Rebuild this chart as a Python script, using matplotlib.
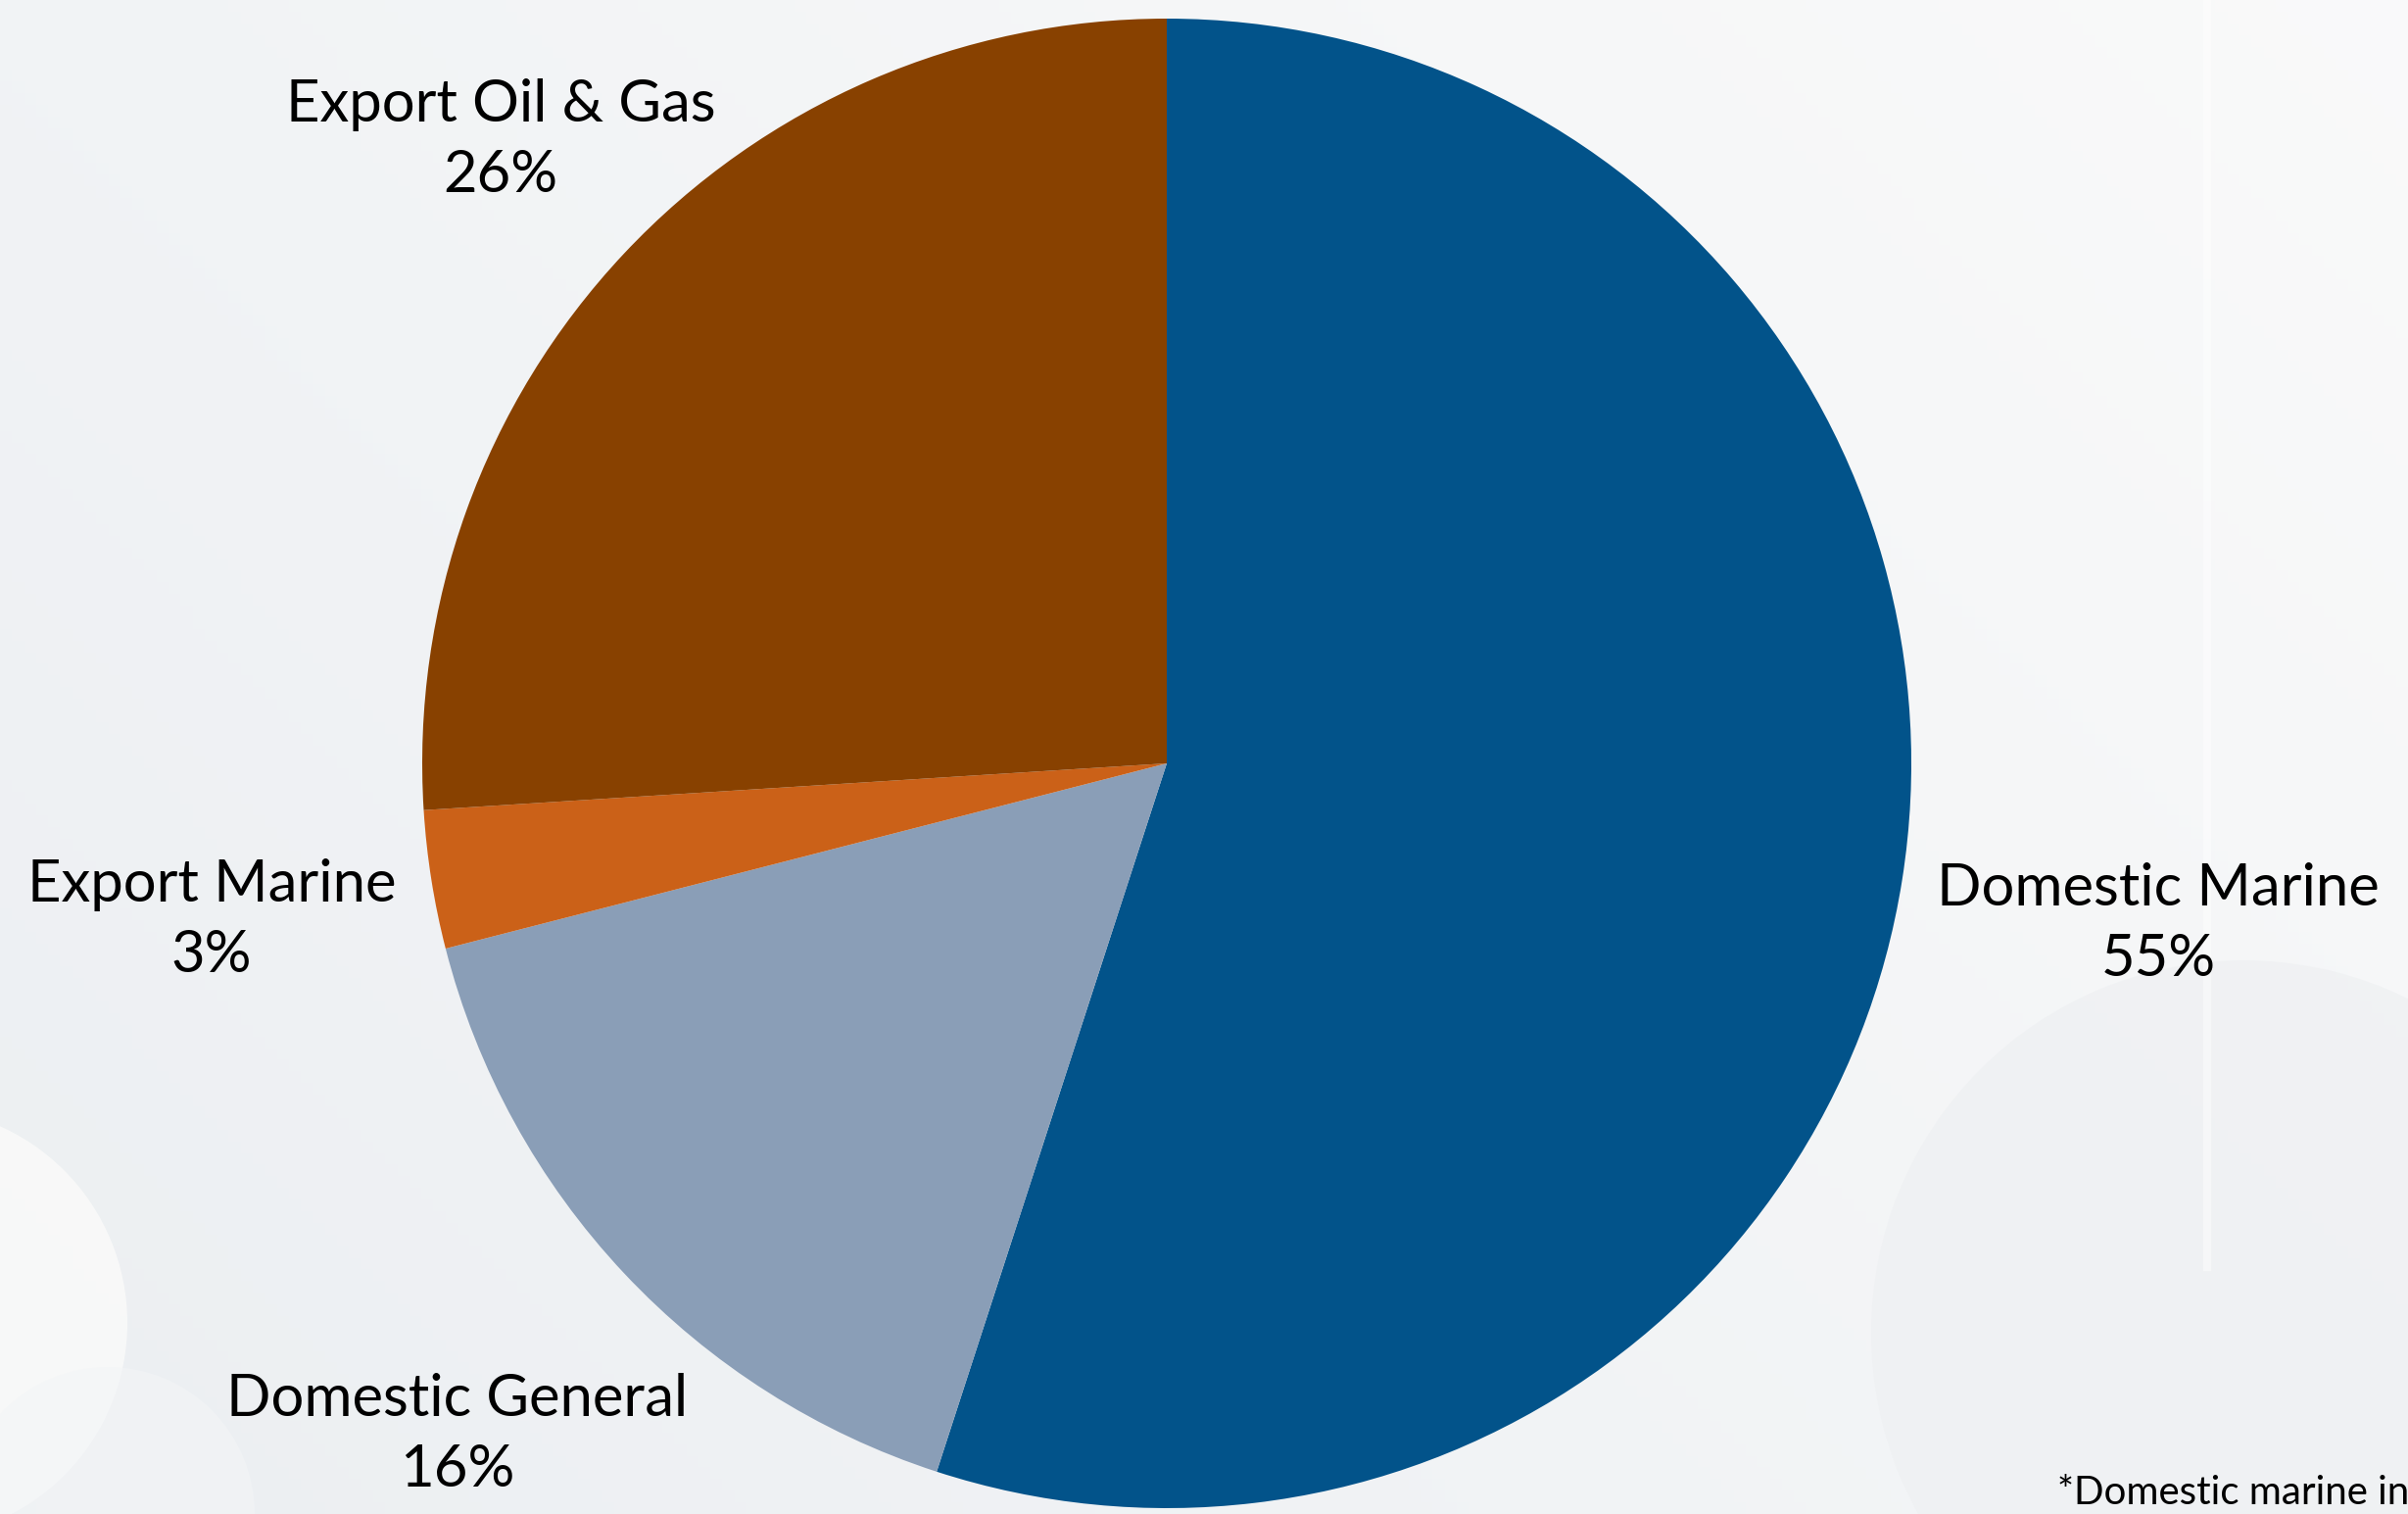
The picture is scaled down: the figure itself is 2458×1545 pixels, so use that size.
import matplotlib.pyplot as plt
import numpy as np
from matplotlib.patches import Circle

# data
labels = ['Domestic Marine', 'Domestic General', 'Export Marine', 'Export Oil & Gas']
shares = [55, 16, 3, 26]
colors = ['#02538A', '#8A9EB7', '#CB6118', '#884100']

# label anchors in pixel space (x, y from top)
label_pos = [(2203, 943), (467, 1464), (216, 939), (511, 143)]

W, H = 2458, 1545
plt.rcParams['font.family'] = ['Lato', 'DejaVu Sans']

fig = plt.figure(figsize=(W / 100, H / 100), dpi=100)
ax = fig.add_axes([0, 0, 1, 1])

# soft background gradient
gx = np.linspace(0, 1, 200)
gy = np.linspace(0, 1, 130)
X, Y = np.meshgrid(gx, gy)
t = np.clip(0.55 * X + 0.35 * (1 - Y), 0, 1)
c0 = np.array([0.925, 0.937, 0.949])
c1 = np.array([0.985, 0.985, 0.985])
bg = c0[None, None, :] * (1 - t[..., None]) + c1[None, None, :] * t[..., None]
ax.imshow(bg, extent=[0, W, 0, H], origin='upper', aspect='auto', zorder=0)

# decorative shapes
ax.add_patch(Circle((-90, H - 1350), 220, color='#FBFBFA', alpha=0.8, lw=0, zorder=1))
ax.add_patch(Circle((110, H - 1545), 150, color='#F3F5F7', alpha=0.6, lw=0, zorder=1))
ax.add_patch(Circle((2290, H - 1360), 380, color='#EEF0F2', alpha=0.7, lw=0, zorder=1))
ax.plot([2253, 2253], [H, H - 1293], color='#FFFFFF', lw=6, alpha=0.45, zorder=1)

cx, cy, r = 1191, H - 779, 760
ax.pie(shares, colors=colors, startangle=90, counterclock=False,
       center=(cx, cy), radius=r, wedgeprops=dict(linewidth=0),
       frame=True)
ax.set_xlim(0, W)
ax.set_ylim(0, H)
ax.set_aspect('equal')
ax.axis('off')

for name, val, (lx, ly) in zip(labels, shares, label_pos):
    ax.text(lx, H - ly, f'{name}\n{val}%', ha='center', va='center',
            fontsize=43, color='#000000', linespacing=1.42, zorder=5)

fig.text(2100 / W, 1 - 1535 / H, '*Domestic marine in', ha='left', va='baseline',
         fontsize=29, color='#000000')

fig.savefig('out.png', dpi=100)
